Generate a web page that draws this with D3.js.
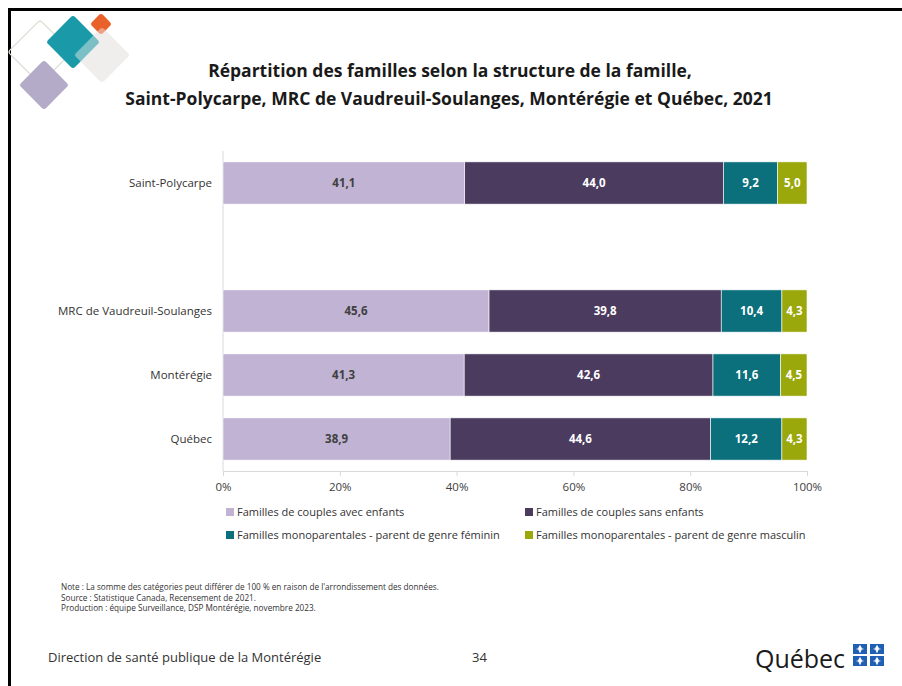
<!DOCTYPE html>
<html>
<head>
<meta charset="utf-8">
<script src="https://cdn.jsdelivr.net/npm/d3@7"></script>
<style>
  html, body { margin: 0; padding: 0; background: #fff; }
  body { font-family: "Open Sans", Lato, sans-serif; }
  svg text { font-family: "Open Sans", Lato, sans-serif; }
</style>
</head>
<body>
<svg id="chart"></svg>
<script>
// categories (an empty slot after Saint-Polycarpe)
let categories = ['Saint-Polycarpe', 'MRC de Vaudreuil-Soulanges', 'Montérégie', 'Québec'];
let slots = ['Saint-Polycarpe', '__gap', 'MRC de Vaudreuil-Soulanges', 'Montérégie', 'Québec'];

let series_names = [
    'Familles de couples avec enfants',
    'Familles de couples sans enfants',
    'Familles monoparentales - parent de genre féminin',
    'Familles monoparentales - parent de genre masculin'
];
let avec_enfants = [41.1, 45.6, 41.3, 38.9];
let sans_enfants = [44.0, 39.8, 42.6, 44.6];
let mono_fem = [9.2, 10.4, 11.6, 12.2];
let mono_masc = [5.0, 4.3, 4.5, 4.3];
let tick_values = [0, 0.2, 0.4, 0.6, 0.8, 1.0];

let colors = ['#c0b3d3', '#4b3b5f', '#0b6f7c', '#9ba80c'];
let label_colors = ['#404040', '#fff', '#fff', '#fff'];

let width = 902, height = 686;
let svg = d3.select('#chart').attr('width', width).attr('height', height);

// slide frame
svg.append('rect').attr('x', 8).attr('y', 8).attr('width', 3).attr('height', height - 8).attr('fill', '#000');
svg.append('rect').attr('x', 8).attr('y', 8).attr('width', width - 8).attr('height', 3).attr('fill', '#000');

// decorative diamonds
let deco = svg.append('g');
function diamond(cx, cy, hd, fill, stroke, op) {
    let s = hd * Math.SQRT2;
    deco.append('rect')
        .attr('x', -s / 2).attr('y', -s / 2).attr('width', s).attr('height', s)
        .attr('rx', 3)
        .attr('transform', `translate(${cx},${cy}) rotate(45)`)
        .attr('fill', fill).attr('stroke', stroke || 'none').attr('stroke-width', 1.2)
        .attr('opacity', op || 1);
}
diamond(40, 52, 32, 'none', '#d5dcd0');
diamond(102, 55, 28, '#efedeb');
diamond(73, 42, 27, '#1a9aa8');
diamond(101, 24, 11, '#e8622a');
diamond(102, 55, 28, '#f2f0ee', null, 0.45);
diamond(44, 85, 25, '#b4abc8');

// title
let title = svg.append('text')
    .attr('text-anchor', 'middle')
    .attr('font-size', 17.5).attr('font-weight', 'bold').attr('fill', '#1a1a1a');
title.append('tspan').attr('x', 450).attr('y', 77).text('Répartition des familles selon la structure de la famille,');
title.append('tspan').attr('x', 449).attr('y', 105).text('Saint-Polycarpe, MRC de Vaudreuil-Soulanges, Montérégie et Québec, 2021');

// scales
let x = d3.scaleLinear().domain([0, 1]).range([223, 807]);
let y = d3.scaleBand().domain(slots).range([151, 471]).paddingInner(0.34).paddingOuter(0.17);

// data rows (100% stacked: each row normalised to its total)
let rows = categories.map((c, i) => {
    let vals = [avec_enfants[i], sans_enfants[i], mono_fem[i], mono_masc[i]];
    let total = d3.sum(vals);
    let acc = 0;
    let segs = vals.map((v, k) => {
        let s = { cat: c, k: k, v: v, x0: acc / total, x1: (acc + v) / total };
        acc += v;
        return s;
    });
    return segs;
}).flat();

// axes
svg.append('line')
    .attr('x1', x(0)).attr('x2', x(0)).attr('y1', 151).attr('y2', 471)
    .attr('stroke', '#d9d9d9').attr('stroke-width', 1);
let axis_x = d3.axisBottom(x).tickValues(tick_values).tickFormat(d3.format('.0%')).tickSize(5).tickPadding(7);
let gx = svg.append('g').attr('transform', `translate(0, 471)`).call(axis_x);
gx.select('.domain').attr('stroke', '#d9d9d9');
gx.selectAll('.tick line').attr('stroke', '#d9d9d9');
gx.selectAll('.tick text').attr('font-size', 11.5).attr('fill', '#404040').attr('font-family', '"Open Sans", Lato, sans-serif');

// category labels
svg.append('g').selectAll('text').data(categories).enter().append('text')
    .attr('x', 212)
    .attr('y', d => y(d) + y.bandwidth() / 2)
    .attr('dy', '0.35em')
    .attr('text-anchor', 'end')
    .attr('font-size', 11.5).attr('fill', '#333')
    .text(d => d);

// bars
svg.append('g').selectAll('rect').data(rows).enter().append('rect')
    .attr('x', d => x(d.x0))
    .attr('y', d => y(d.cat))
    .attr('width', d => x(d.x1) - x(d.x0))
    .attr('height', y.bandwidth())
    .attr('fill', d => colors[d.k])
    .attr('stroke', '#fff').attr('stroke-width', 0.6);

let fmt = v => v.toFixed(1).replace('.', ',');
svg.append('g').selectAll('text').data(rows).enter().append('text')
    .attr('x', d => (x(d.x0) + x(d.x1)) / 2)
    .attr('y', d => y(d.cat) + y.bandwidth() / 2)
    .attr('dy', '0.35em')
    .attr('text-anchor', 'middle')
    .attr('font-size', 11.5).attr('font-weight', 'bold')
    .attr('fill', d => label_colors[d.k])
    .text(d => fmt(d.v));

// legend
let legend_pos = [[226, 512], [525, 512], [226, 535], [525, 535]];
let lg = svg.append('g').selectAll('g').data(series_names).enter().append('g')
    .attr('transform', (d, i) => `translate(${legend_pos[i][0]}, ${legend_pos[i][1]})`);
lg.append('rect').attr('x', 0).attr('y', -4).attr('width', 8).attr('height', 8)
    .attr('fill', (d, i) => colors[i]);
lg.append('text').attr('x', 11).attr('dy', '0.35em')
    .attr('font-size', 11).attr('fill', '#333').text(d => d);

// notes
let notes = [
    'Note : La somme des catégories peut différer de 100 % en raison de l\'arrondissement des données.',
    'Source : Statistique Canada, Recensement de 2021.',
    'Production : équipe Surveillance, DSP Montérégie, novembre 2023.'
];
svg.append('g').selectAll('text').data(notes).enter().append('text')
    .attr('x', 61).attr('y', (d, i) => 590 + i * 10.5)
    .attr('font-size', 8.2).attr('fill', '#333').text(d => d);

// footer
svg.append('text').attr('x', 48).attr('y', 662).attr('font-size', 13).attr('fill', '#333')
    .text('Direction de santé publique de la Montérégie');
svg.append('text').attr('x', 472).attr('y', 662).attr('font-size', 13).attr('fill', '#333').text('34');

// Québec logo
svg.append('text').attr('x', 755).attr('y', 668).attr('font-size', 25).attr('fill', '#1a1a1a')
    .attr('font-family', '"Noto Sans", sans-serif').attr('textLength', 90).text('Québec');
let flag = svg.append('g').attr('transform', 'translate(853, 644)');
[[0, 0], [17, 0], [0, 12], [17, 12]].forEach(p => {
    flag.append('rect').attr('x', p[0]).attr('y', p[1]).attr('width', 14).attr('height', 10).attr('fill', '#1f5fb4');
    flag.append('path')
        .attr('d', `M${p[0] + 7},${p[1] + 1.5} l1.7,3 l-1.7,4 l-1.7,-4 z M${p[0] + 3.5},${p[1] + 5} h7`)
        .attr('fill', '#fff').attr('stroke', '#fff').attr('stroke-width', 0.8);
});
</script>
</body>
</html>
